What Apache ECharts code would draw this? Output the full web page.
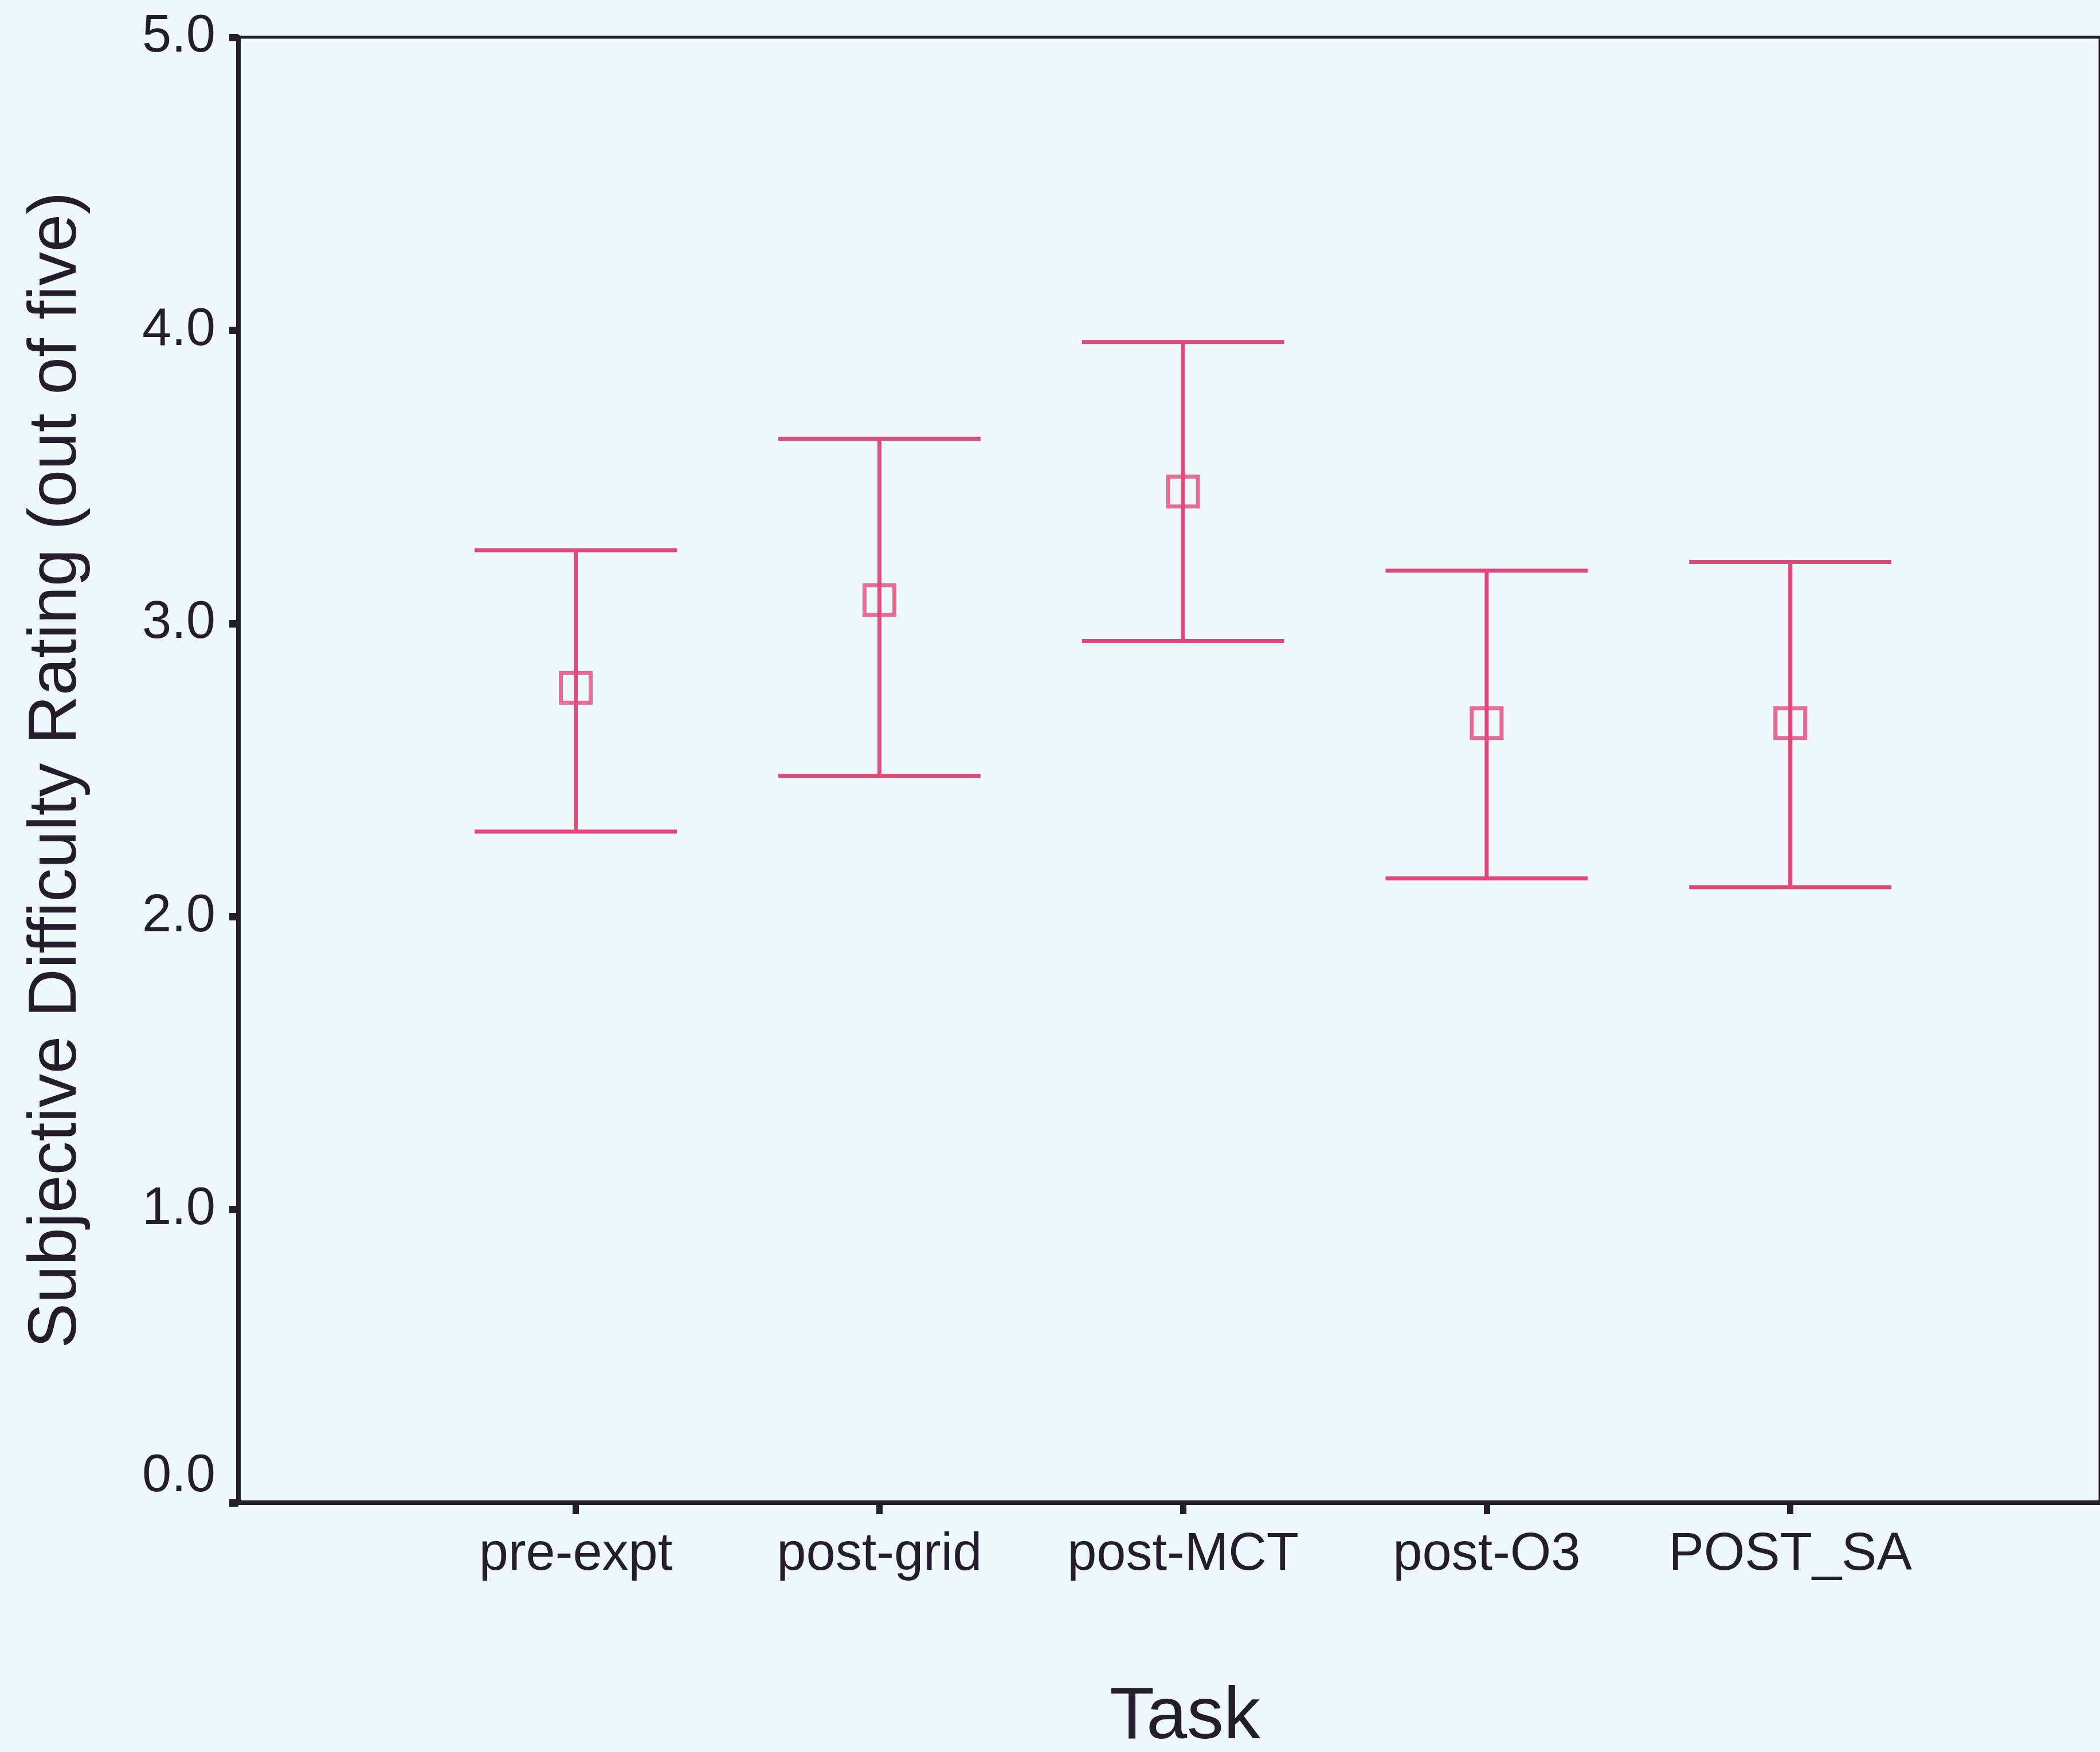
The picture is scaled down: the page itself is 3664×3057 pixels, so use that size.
<!DOCTYPE html>
<html>
<head>
<meta charset="utf-8">
<script src="https://cdn.jsdelivr.net/npm/echarts@6/dist/echarts.min.js"></script>
<style>
  html, body { margin: 0; padding: 0; background: #eef8fb; }
  #main { width: 3664px; height: 3057px; }
</style>
</head>
<body>
<div id="main"></div>
<script>
var categories = ['pre-expt', 'post-grid', 'post-MCT', 'post-O3', 'POST_SA'];
var means = [2.78, 3.08, 3.45, 2.66, 2.66];
var upper = [3.25, 3.63, 3.96, 3.18, 3.21];
var lower = [2.29, 2.48, 2.94, 2.13, 2.10];

var pink = '#e2497b';
var ink = '#241d2c';
var font = 'Liberation Sans';

var barData = categories.map(function (c, i) { return [i, lower[i], upper[i]]; });
var meanData = categories.map(function (c, i) { return [i, means[i]]; });

var option = {
    backgroundColor: '#eef8fb',
    animation: false,
    grid: {
        left: 416, right: 0, top: 65, bottom: 435,
        outerBoundsMode: 'none',
        show: true, borderColor: ink, borderWidth: 5,
        backgroundColor: 'transparent'
    },
    xAxis: {
        type: 'value',
        min: -1.111, max: 5.02,
        name: 'Task',
        nameLocation: 'middle',
        nameGap: 312,
        nameTextStyle: { fontFamily: font, fontSize: 128, color: ink, padding: [0, 0, 0, 55] },
        axisLine: { show: true, onZero: false, lineStyle: { color: ink, width: 8 } },
        axisTick: { show: true, customValues: [0, 1, 2, 3, 4], length: 20, lineStyle: { color: ink, width: 11 } },
        axisLabel: {
            customValues: [0, 1, 2, 3, 4],
            margin: 46,
            fontFamily: font, fontSize: 92, color: ink,
            formatter: function (v) { return categories[Math.round(v)]; }
        },
        splitLine: { show: false }
    },
    yAxis: {
        type: 'value',
        min: 0, max: 5, interval: 1,
        name: 'Subjective Difficulty Rating (out of five)',
        nameLocation: 'middle',
        nameGap: 258,
        nameTextStyle: { fontFamily: font, fontSize: 118, color: ink },
        axisLine: { show: true, onZero: false, lineStyle: { color: ink, width: 8 } },
        axisTick: { show: true, length: 16, lineStyle: { color: ink, width: 13 } },
        axisLabel: {
            margin: 40,
            fontFamily: font, fontSize: 92, color: ink,
            formatter: function (v) {
                return v === 0 ? '{low|0.0}' : v.toFixed(1);
            },
            rich: { low: { fontFamily: font, fontSize: 92, color: ink, padding: [0, 0, 90, 0] } }
        },
        splitLine: { show: false }
    },
    series: [
        {
            type: 'custom',
            data: barData,
            encode: { x: 0, y: [1, 2] },
            renderItem: function (params, api) {
                var x = api.value(0);
                var lo = api.coord([x, api.value(1)]);
                var hi = api.coord([x, api.value(2)]);
                var half = api.size([1, 0])[0] * 0.333;
                var st = { stroke: pink, lineWidth: 7 };
                return {
                    type: 'group',
                    children: [
                        { type: 'line', shape: { x1: lo[0], y1: lo[1], x2: hi[0], y2: hi[1] }, style: st },
                        { type: 'line', shape: { x1: hi[0] - half, y1: hi[1], x2: hi[0] + half, y2: hi[1] }, style: st },
                        { type: 'line', shape: { x1: lo[0] - half, y1: lo[1], x2: lo[0] + half, y2: lo[1] }, style: st }
                    ]
                };
            },
            z: 2
        },
        {
            type: 'scatter',
            data: meanData,
            symbol: 'rect',
            symbolSize: 52,
            itemStyle: { color: 'transparent', borderColor: pink, borderWidth: 7 },
            z: 3
        }
    ]
};

var myChart = echarts.init(document.getElementById('main'));
myChart.setOption(option);
</script>
</body>
</html>
